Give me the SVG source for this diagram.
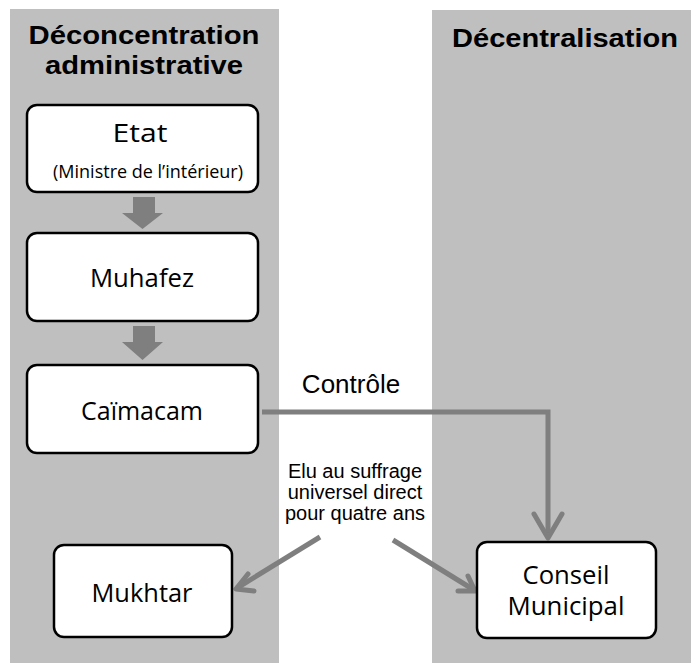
<svg xmlns="http://www.w3.org/2000/svg" width="691" height="672" viewBox="0 0 691 672">
<defs>
<style>
.panel{fill:#bfbfbf}
.box{fill:#fff;stroke:#000;stroke-width:2.5}
.title{font-family:"Liberation Sans",Arial,sans-serif;font-weight:bold;font-size:26px;fill:#000;text-anchor:middle}
.lbl{font-family:"Open Sans","Liberation Sans",sans-serif;font-size:25px;fill:#000;text-anchor:middle}
.small{font-family:"Open Sans","Liberation Sans",sans-serif;font-size:18px;fill:#000;text-anchor:middle}
.note{font-family:"Liberation Sans",Arial,sans-serif;font-size:20px;fill:#000;text-anchor:middle}
.ctl{font-family:"Liberation Sans",Arial,sans-serif;font-size:26px;fill:#000;text-anchor:middle}
.conn{fill:none;stroke:#7f7f7f;stroke-width:5}
.head{fill:none;stroke:#7f7f7f;stroke-width:5;stroke-linecap:round;stroke-linejoin:round}
.block{fill:#7f7f7f}
</style>
</defs>
<rect width="691" height="672" fill="#fff"/>
<rect class="panel" x="10" y="9" width="269" height="654"/>
<rect class="panel" x="432" y="10" width="259" height="653"/>
<text class="title" x="144" y="44" textLength="231" lengthAdjust="spacingAndGlyphs">Déconcentration</text>
<text class="title" x="144" y="74" textLength="198" lengthAdjust="spacingAndGlyphs">administrative</text>
<text class="title" x="565" y="47" textLength="226" lengthAdjust="spacingAndGlyphs">Décentralisation</text>

<g id="connectors">
<path class="block" d="M133,197 H155 V213 H163 L142.5,229 L122,213 H133 Z"/>
<path class="block" d="M133,326 H155 V342 H163 L142.5,360 L122,342 H133 Z"/>
<path class="conn" d="M262,412 H548 V538"/>
<path class="head" d="M534,514 L548,538 L562,514"/>
<line class="conn" x1="320" y1="537" x2="237" y2="588"/>
<path class="head" d="M248,574 L236,589 L254,591"/>
<line class="conn" x1="393" y1="540" x2="474" y2="590"/>
<path class="head" d="M468,576 L475,591 L458,591"/>
</g>

<text class="ctl" x="351" y="393">Contrôle</text>
<text class="note" x="355" y="478">Elu au suffrage</text>
<text class="note" x="355" y="499">universel direct</text>
<text class="note" x="355" y="520">pour quatre ans</text>

<g id="etat">
<rect class="box" x="27" y="105" width="231" height="87" rx="10"/>
<text class="lbl" x="140" y="142" textLength="55" lengthAdjust="spacingAndGlyphs">Etat</text>
<text class="small" x="148" y="178" textLength="190" lengthAdjust="spacingAndGlyphs">(Ministre de l’intérieur)</text>
</g>
<g id="muhafez">
<rect class="box" x="27" y="233" width="231" height="88" rx="10"/>
<text class="lbl" x="142" y="287" textLength="104" lengthAdjust="spacingAndGlyphs">Muhafez</text>
</g>
<g id="caimacam">
<rect class="box" x="27" y="365" width="231" height="88" rx="10"/>
<text class="lbl" x="142" y="420" textLength="122" lengthAdjust="spacingAndGlyphs">Caïmacam</text>
</g>
<g id="mukhtar">
<rect class="box" x="54" y="545" width="178" height="92" rx="10"/>
<text class="lbl" x="142" y="602" textLength="101" lengthAdjust="spacingAndGlyphs">Mukhtar</text>
</g>
<g id="conseil">
<rect class="box" x="477" y="542" width="179" height="96" rx="10"/>
<text class="lbl" x="566" y="584" textLength="87" lengthAdjust="spacingAndGlyphs">Conseil</text>
<text class="lbl" x="566" y="615" textLength="117" lengthAdjust="spacingAndGlyphs">Municipal</text>
</g>
</svg>
